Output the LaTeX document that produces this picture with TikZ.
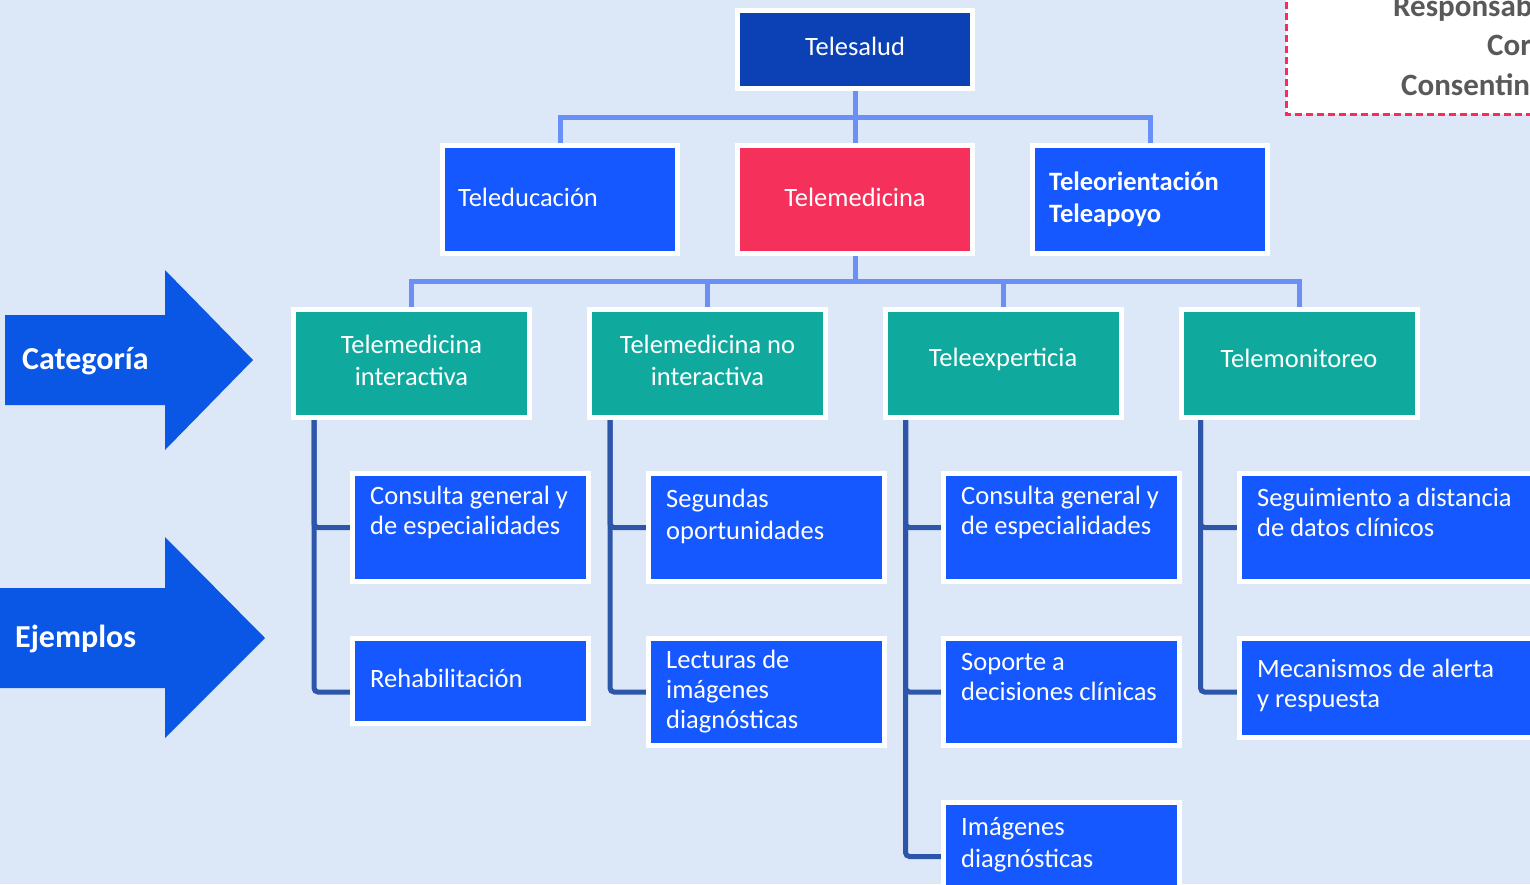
\documentclass[tikz,border=0pt]{standalone}
\usepackage{fontspec}
\setmainfont{Carlito}
\usetikzlibrary{backgrounds,calc}
\definecolor{bgc}{HTML}{DCE8F8}
\definecolor{navyc}{HTML}{0B41B5}
\definecolor{brightc}{HTML}{1558FF}
\definecolor{redc}{HTML}{F5305A}
\definecolor{tealc}{HTML}{10A99D}
\definecolor{lconnc}{HTML}{6A90F8}
\definecolor{dconnc}{HTML}{2D55AA}
\definecolor{arrowc}{HTML}{0B57E5}
\definecolor{dashc}{HTML}{FF2A5C}
\definecolor{grayc}{HTML}{595959}
\begin{document}
\begin{tikzpicture}[x=1pt,y=-1pt,
  box/.style={draw=white, line width=5pt, inner sep=0pt, minimum width=235pt},
  topbox/.style={box, fill=navyc, minimum height=78pt},
  midbox/.style={box, fill=brightc, minimum height=108pt},
  catbox/.style={box, fill=tealc, minimum width=236pt, minimum height=108pt},
  kid/.style={box, fill=brightc, minimum width=236pt},
  ctxt/.style={text=white, font=\fontsize{26.5}{32}\selectfont, align=center, inner sep=0pt, anchor=center},
  txt/.style={text=white, font=\fontsize{26.5}{30}\selectfont, align=left, inner sep=0pt, anchor=west},
  lconn/.style={draw=lconnc, line width=5pt},
  dconn/.style={draw=dconnc, line width=5pt, rounded corners=4pt},
  bigarrow/.style={fill=arrowc},
  arrtxt/.style={text=white, font=\fontsize{32}{38}\selectfont\bfseries, inner sep=0pt, anchor=west},
  notetxt/.style={text=grayc, font=\fontsize{31}{36}\selectfont\bfseries, inner sep=0pt, anchor=west}
]
\useasboundingbox (0,0) rectangle (1530,884);

% arrows
\fill[bigarrow] (5,315) -- (165,315) -- (165,270) -- (253,360) -- (165,450) -- (165,405) -- (5,405) -- cycle;
\node[arrtxt] (lcat) at (22,361) {Categoría};
\fill[bigarrow] (0,588) -- (165,588) -- (165,537) -- (265,638) -- (165,738) -- (165,688) -- (0,688) -- cycle;
\node[arrtxt] (lej) at (15,639) {Ejemplos};

% dashed note box
\draw[fill=white, draw=dashc, line width=3pt, dash pattern=on 7pt off 4pt] (1286,-20) rectangle (1560,114);
\node[notetxt] (n1) at (1393,8) {Responsab};
\node[notetxt] (n2) at (1487,45) {Cor};
\node[notetxt] (n3) at (1401,85) {Consentin};

% top
\node[topbox] (tsalud) at (855,49.5) {};
\node[ctxt] (tsaludt) at (855,46) {Telesalud};
\node[midbox] (edu) at (560,199.5) {};
\node[txt, font=\fontsize{26.5}{32}\selectfont] (edut) at (458,197) {Teleducación};
\node[midbox, fill=redc] (tmed) at (855,199.5) {};
\node[ctxt] (tmedt) at (855,197) {Telemedicina};
\node[midbox] (orient) at (1150,199.5) {};
\node[txt, font=\fontsize{26.5}{32}\selectfont\bfseries] (oriet) at (1049,199) {Teleorientación\\Teleapoyo};

% categories
\node[catbox] (cat1) at (411.5,363.5) {};
\node[ctxt] (cat1t) at (411.5,360) {Telemedicina\\interactiva};
\node[catbox] (cat2) at (707.5,363.5) {};
\node[ctxt] (cat2t) at (707.5,360) {Telemedicina no\\interactiva};
\node[catbox] (cat3) at (1003,363.5) {};
\node[ctxt] (cat3t) at (1003,359) {Teleexperticia};
\node[catbox] (cat4) at (1299,363.5) {};
\node[ctxt] (cat4t) at (1299,358) {Telemonitoreo};

% examples
\node[kid, minimum height=108pt] (k1a) at (470.5,527.5) {};
\node[txt] (t1a) at (370,512.5) {Consulta general y\\de especialidades};
\node[kid, minimum height=85pt] (k1b) at (470.5,681) {};
\node[txt] (t1b) at (370,678) {Rehabilitación};

\node[kid, minimum height=108pt] (k2a) at (766.5,527.5) {};
\node[txt, font=\fontsize{26.5}{32}\selectfont] (t2a) at (666,516) {Segundas\\oportunidades};
\node[kid, minimum height=107pt] (k2b) at (766.5,692) {};
\node[txt] (t2b) at (666,691.5) {Lecturas de\\imágenes\\diagnósticas};

\node[kid, minimum height=108pt] (k3a) at (1061.5,527.5) {};
\node[txt] (t3a) at (961,512.5) {Consulta general y\\de especialidades};
\node[kid, minimum height=107pt] (k3b) at (1061.5,692) {};
\node[txt] (t3b) at (961,676.5) {Soporte a\\decisiones clínicas};
\node[kid, minimum height=108pt] (k3c) at (1061.5,856.5) {};
\node[txt, font=\fontsize{26.5}{32}\selectfont] (t3c) at (961,845) {Imágenes\\diagnósticas};

\node[kid, minimum width=358pt, minimum height=108pt] (k4a) at (1418.5,527.5) {};
\node[txt] (t4a) at (1257,512) {Seguimiento a distancia\\de datos clínicos};
\node[kid, minimum width=358pt, minimum height=99pt] (k4b) at (1418.5,688) {};
\node[txt] (t4b) at (1257,685.5) {Mecanismos de alerta\\y respuesta};

\begin{pgfonlayer}{background}
  \fill[bgc] (0,0) rectangle (1530,884);
  \coordinate (j1) at (855,117);
  \coordinate (j2) at (855,281);
  \coordinate (y692) at (0,692);
  \draw[lconn] (tsalud.south) -- (j1);
  \draw[lconn] (j1) -| (edu.north);
  \draw[lconn] (j1) -| (tmed.north);
  \draw[lconn] (j1) -| (orient.north);
  \draw[lconn] (tmed.south) -- (j2);
  \draw[lconn] (j2) -| (cat1.north);
  \draw[lconn] (j2) -| (cat2.north);
  \draw[lconn] (j2) -| (cat3.north);
  \draw[lconn] (j2) -| (cat4.north);
  \draw[dconn] ([xshift=23pt]cat1.south west) |- (k1a.west);
  \draw[dconn] ([xshift=23pt]cat1.south west) |- (k1b.west |- y692);
  \draw[dconn] ([xshift=23pt]cat2.south west) |- (k2a.west);
  \draw[dconn] ([xshift=23pt]cat2.south west) |- (k2b.west);
  \draw[dconn] ([xshift=23pt]cat3.south west) |- (k3a.west);
  \draw[dconn] ([xshift=23pt]cat3.south west) |- (k3b.west);
  \draw[dconn] ([xshift=23pt]cat3.south west) |- (k3c.west);
  \draw[dconn] ([xshift=22pt]cat4.south west) |- (k4a.west);
  \draw[dconn] ([xshift=22pt]cat4.south west) |- (k4b.west |- y692);
\end{pgfonlayer}
\end{tikzpicture}
\end{document}
